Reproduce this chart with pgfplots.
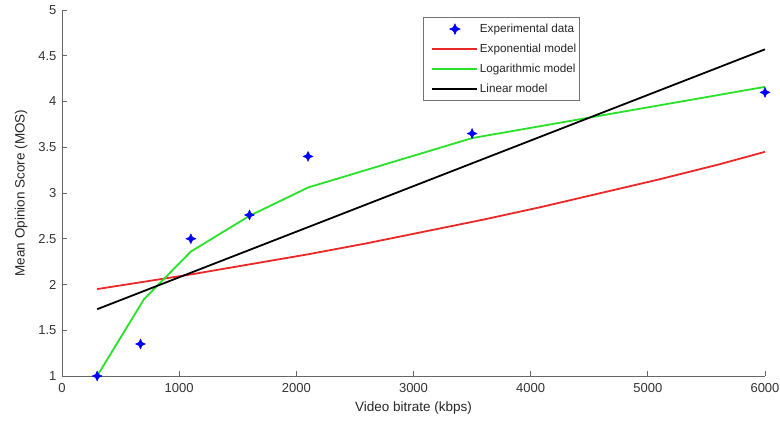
\documentclass[border=0pt]{standalone}
\usepackage{fontspec}
\setmainfont{Liberation Sans}
\usepackage{pgfplots}
\pgfplotsset{compat=1.18}
\definecolor{expred}{RGB}{235,40,40}
\definecolor{loggreen}{RGB}{40,225,40}
\pgfdeclareplotmark{star4}{%
  \pgfpathmoveto{\pgfqpoint{0pt}{\pgfplotmarksize}}%
  \pgfpathlineto{\pgfqpoint{0.32\pgfplotmarksize}{0.32\pgfplotmarksize}}%
  \pgfpathlineto{\pgfqpoint{\pgfplotmarksize}{0pt}}%
  \pgfpathlineto{\pgfqpoint{0.32\pgfplotmarksize}{-0.32\pgfplotmarksize}}%
  \pgfpathlineto{\pgfqpoint{0pt}{-\pgfplotmarksize}}%
  \pgfpathlineto{\pgfqpoint{-0.32\pgfplotmarksize}{-0.32\pgfplotmarksize}}%
  \pgfpathlineto{\pgfqpoint{-\pgfplotmarksize}{0pt}}%
  \pgfpathlineto{\pgfqpoint{-0.32\pgfplotmarksize}{0.32\pgfplotmarksize}}%
  \pgfpathclose
  \pgfusepathqfillstroke}
\begin{document}
\fontsize{13}{15}\selectfont
\begin{tikzpicture}[x=1pt,y=1pt]
\useasboundingbox (0,0) rectangle (780,421);
\begin{axis}[
  at={(62pt,45pt)}, anchor=south west,
  scale only axis, width=703pt, height=366pt,
  xmin=0, xmax=6000, ymin=1, ymax=5,
  axis lines*=left,
  axis line style={draw=black!60, line width=1pt},
  tick align=inside,
  major tick length=5pt,
  tick style={black!60, line width=0.9pt},
  xtick={0,1000,...,6000},
  ytick={1,1.5,...,5},
  scaled x ticks=false,
  /pgf/number format/1000 sep={},
  /pgf/number format/assume math mode=true,
  ticklabel style={font=\fontsize{13}{15}\selectfont, text=black!80},
  xticklabel style={yshift=-3pt},
  yticklabel style={xshift=-1pt},
  xlabel={Video bitrate (kbps)},
  ylabel={Mean Opinion Score (MOS)},
  label style={font=\fontsize{13.5}{15}\selectfont, text=black!85},
  xlabel style={yshift=0pt},
  ylabel style={yshift=2pt},
  legend style={at={(0.513,0.981)}, anchor=north west, draw=black!55, line width=0.8pt,
    font=\fontsize{11.7}{14}\selectfont, text=black!85, row sep=5.5pt,
    inner xsep=1pt, inner ysep=4.5pt},
  legend cell align=left,
]
\addplot[only marks, mark=star4, mark size=5pt, color=blue, fill=blue,
  legend image code/.code={\path (0pt,0pt) (52pt,0pt); \draw[mark repeat=1, mark phase=1] plot coordinates {(30pt,0pt)};}]
  coordinates {(300,1.0) (670,1.35) (1100,2.5) (1600,2.76) (2100,3.40) (3500,3.65) (6000,4.10)};
\addlegendentry{Experimental data}
\addplot[expred, line width=1.8pt,
  legend image code/.code={\path (0pt,0pt); \draw[expred, line width=2pt] (7pt,0pt) -- (52pt,0pt);}] coordinates {
  (300,1.95) (700,2.03) (1100,2.11) (1600,2.22) (2100,2.33) (2600,2.45) (3100,2.58) (3600,2.71) (4100,2.85) (4600,3.00) (5100,3.15) (5600,3.31) (6000,3.45)};
\addlegendentry{Exponential model}
\addplot[loggreen, line width=1.8pt,
  legend image code/.code={\path (0pt,0pt); \draw[loggreen, line width=2pt] (7pt,0.3pt) -- (52pt,0.3pt);}] coordinates {
  (300,1.0) (700,1.84) (1100,2.36) (1600,2.75) (2100,3.06) (3500,3.60) (6000,4.16)};
\addlegendentry{Logarithmic model}
\addplot[black, line width=1.8pt,
  legend image code/.code={\path (0pt,0pt); \draw[black, line width=2pt] (7pt,0pt) -- (52pt,0pt);}] coordinates {(300,1.73) (6000,4.57)};
\addlegendentry{Linear model}
\end{axis}
\end{tikzpicture}
\end{document}
